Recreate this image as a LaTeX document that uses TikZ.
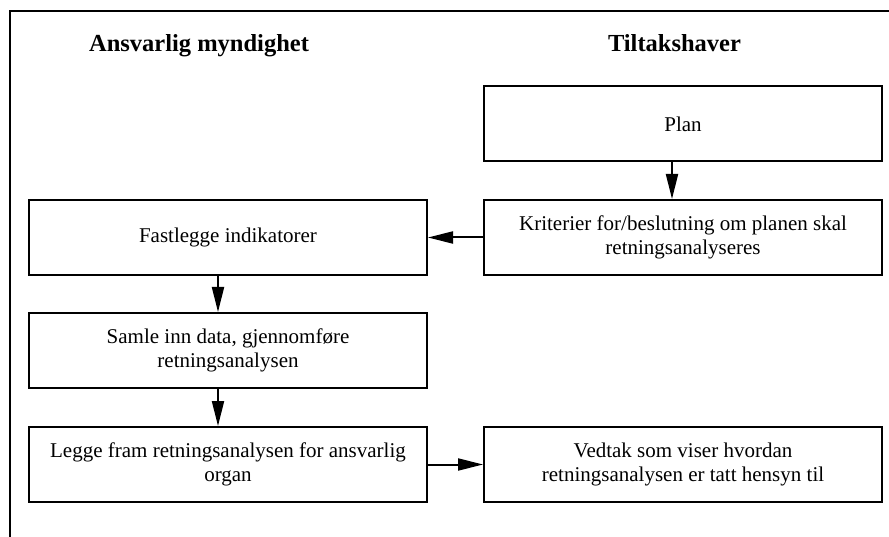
\documentclass[tikz,border=0pt]{standalone}
\usepackage{fontspec}
\setmainfont{Liberation Serif}
\usetikzlibrary{arrows.meta}
\begin{document}
\begin{tikzpicture}[x=1pt,y=-1pt,
  stepbox/.style={draw,line width=2pt,minimum width=398pt,minimum height=75pt,
    align=center,inner sep=0pt,font=\fontsize{21}{24}\selectfont},
  head/.style={font=\fontsize{24.5}{28}\selectfont\bfseries,inner sep=0pt,anchor=base},
  conn/.style={line width=2pt,-{Triangle[length=25pt,width=12pt]}}]
\useasboundingbox (0,0) rectangle (889,537);
\draw[line width=2pt] (890,11) -- (10,11) -- (10,538);
\node[head] (h1) at (199,52) {Ansvarlig myndighet};
\node[head] (h2) at (674.5,52) {Tiltakshaver};
\node[stepbox] (plan) at (683,124) {Plan};
\node[stepbox] (krit) at (683,237.5) {Kriterier for/beslutning om planen skal\\retningsanalyseres};
\node[stepbox] (fast) at (228,237.5) {Fastlegge indikatorer};
\node[stepbox] (samle) at (228,350.5) {Samle inn data, gjennomføre\\retningsanalysen};
\node[stepbox] (legge) at (228,464.5) {Legge fram retningsanalysen for ansvarlig\\organ};
\node[stepbox] (vedtak) at (683,464.5) {Vedtak som viser hvordan\\retningsanalysen er tatt hensyn til};
\draw[conn] ([xshift=-11pt]plan.south) -- ([xshift=-11pt]krit.north);
\draw[conn] (krit.west) -- (fast.east);
\draw[conn] ([xshift=-10pt]fast.south) -- ([xshift=-10pt]samle.north);
\draw[conn] ([xshift=-10pt]samle.south) -- ([xshift=-10pt]legge.north);
\draw[conn] (legge.east) -- (vedtak.west);
\end{tikzpicture}
\end{document}
